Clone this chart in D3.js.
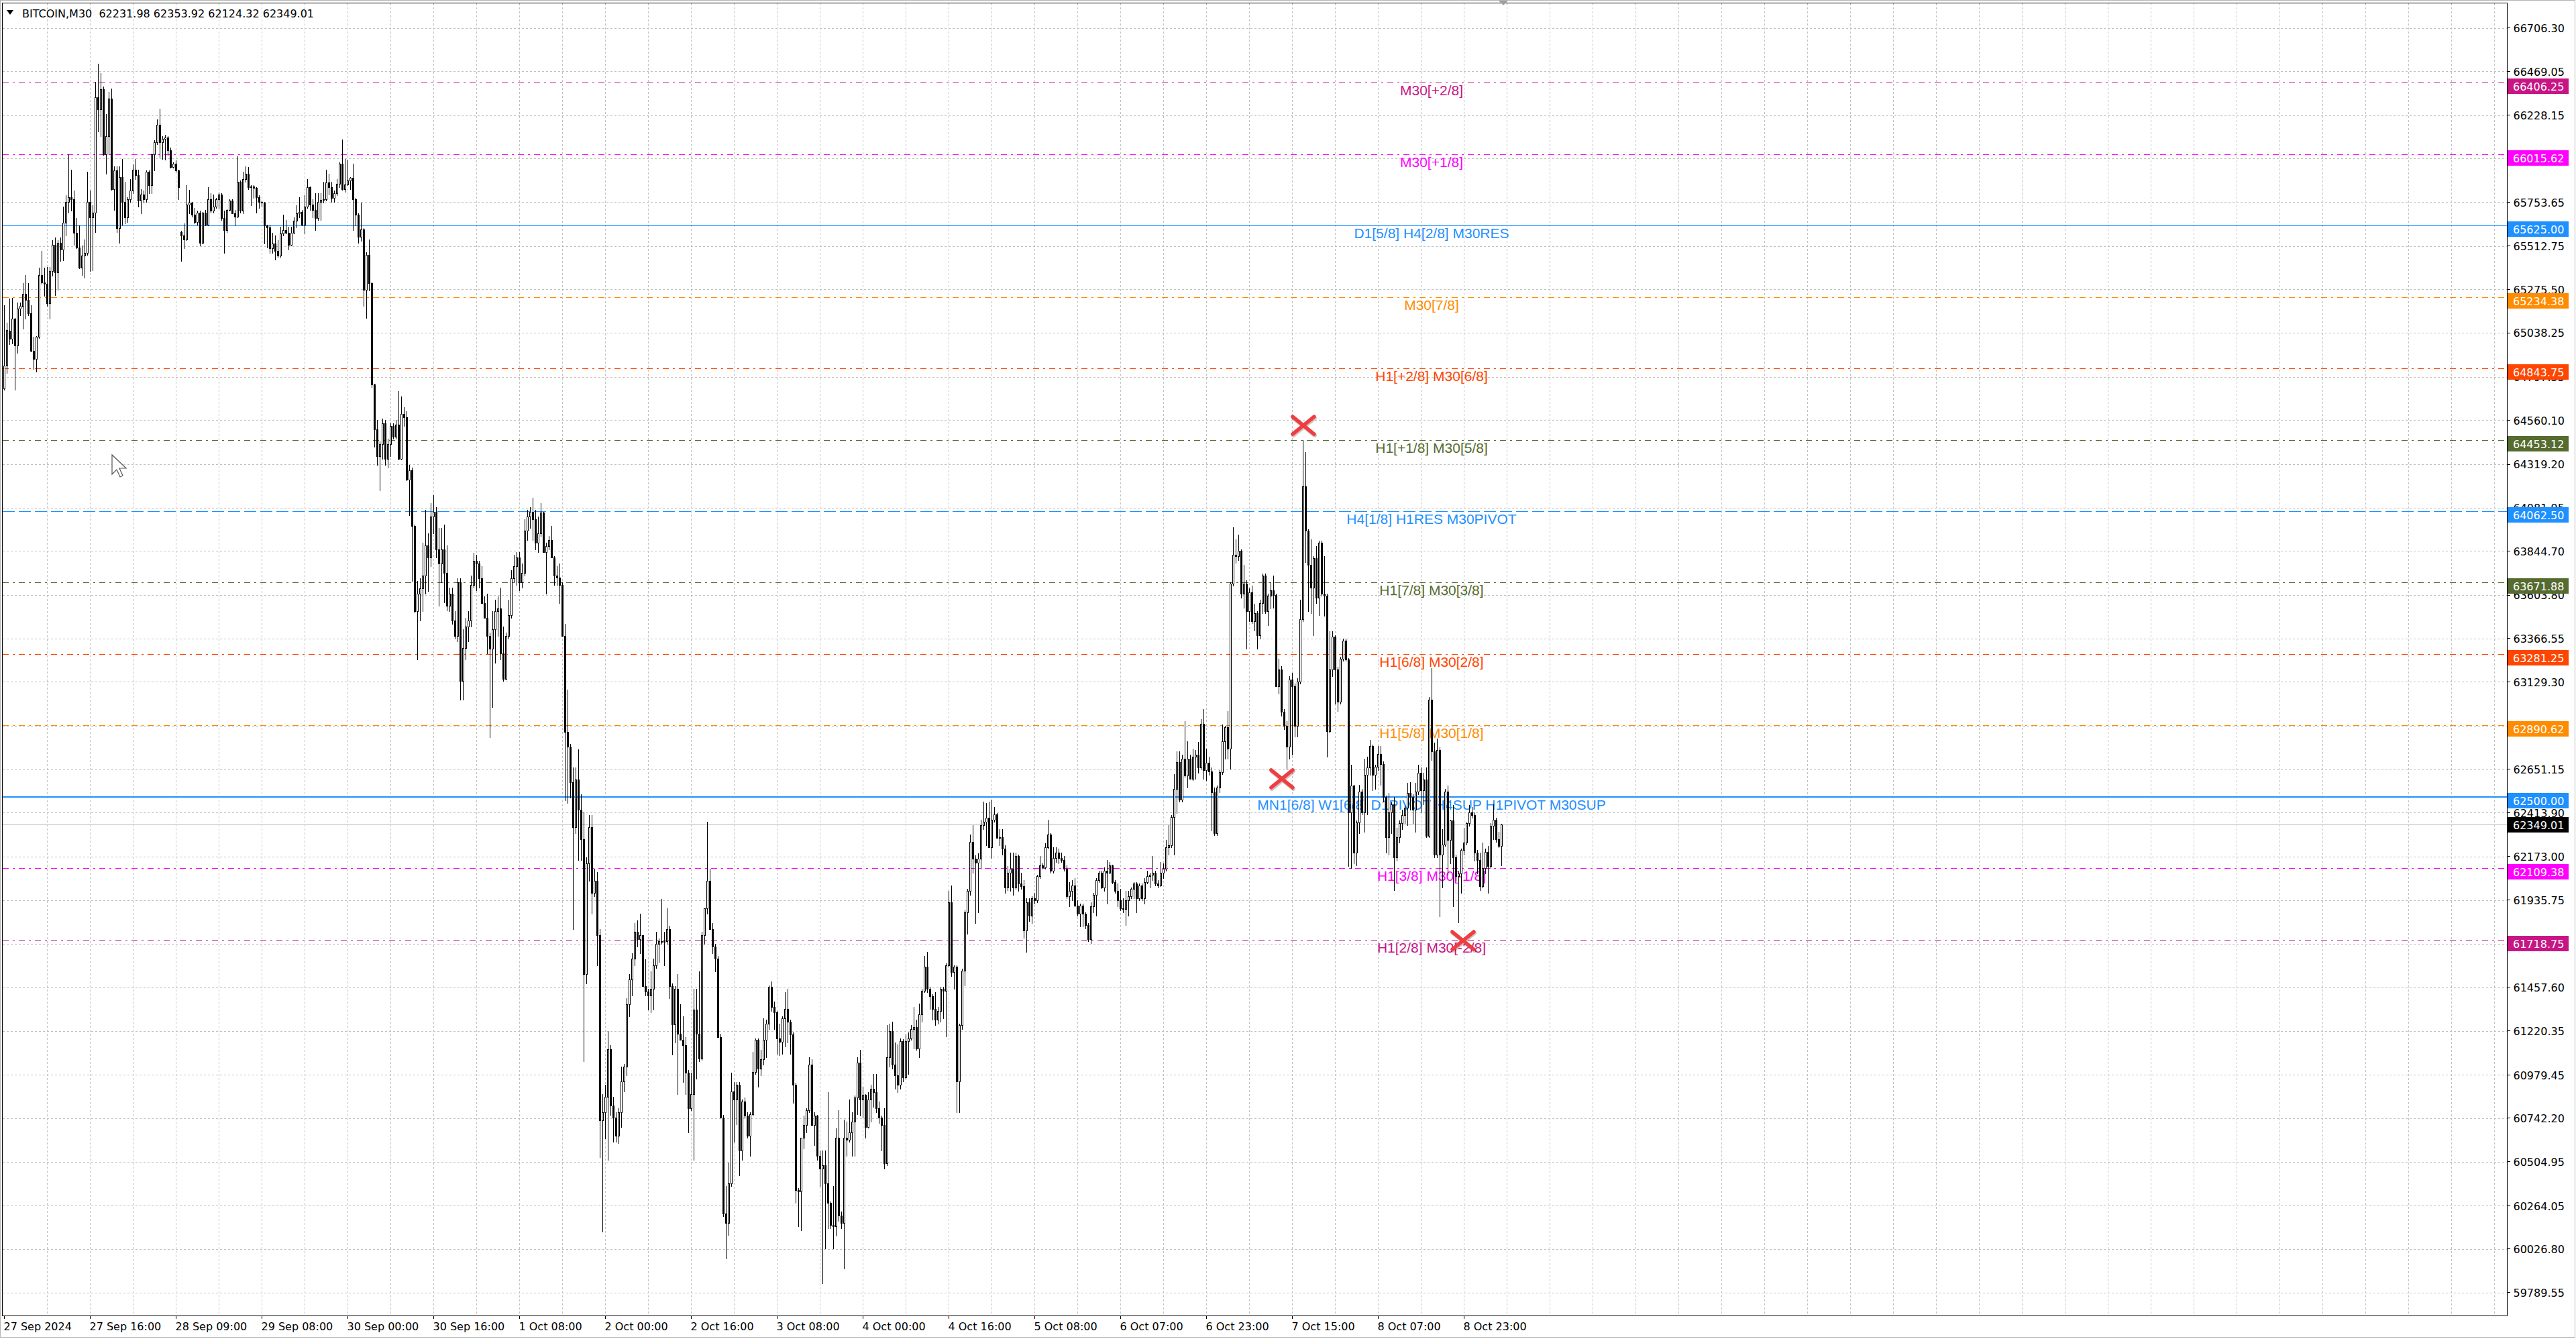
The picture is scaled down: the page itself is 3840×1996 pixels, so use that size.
<!DOCTYPE html>
<html>
<head>
<meta charset="utf-8">
<script src="https://cdn.jsdelivr.net/npm/d3@7"></script>
<style>
html, body { margin: 0; padding: 0; background: #fff; }
svg { display: block; }
</style>
</head>
<body>
<svg id="chart" width="3840" height="1996"></svg>
<script>
// chart header
const symbol = "BITCOIN,M30";
const lastBar = [62231.98, 62353.92, 62124.32, 62349.01];

// right price scale labels
const priceTicks = [66706.30, 66469.05, 66228.15, 65990.90, 65753.65, 65512.75, 65275.50, 65038.25,
  64797.35, 64560.10, 64319.20, 64081.95, 63844.70, 63603.80, 63366.55, 63129.30, 62888.40,
  62651.15, 62413.90, 62173.00, 61935.75, 61694.85, 61457.60, 61220.35, 60979.45, 60742.20,
  60504.95, 60264.05, 60026.80, 59789.55];

// bottom time labels, one every 32 bars
const timeLabels = ["27 Sep 2024", "27 Sep 16:00", "28 Sep 09:00", "29 Sep 08:00", "30 Sep 00:00",
  "30 Sep 16:00", "1 Oct 08:00", "2 Oct 00:00", "2 Oct 16:00", "3 Oct 08:00", "4 Oct 00:00",
  "4 Oct 16:00", "5 Oct 08:00", "6 Oct 07:00", "6 Oct 23:00", "7 Oct 15:00", "8 Oct 07:00", "8 Oct 23:00"];

// murrey levels
const levelPrices = [66406.25, 66015.62, 65625.00, 65234.38, 64843.75, 64453.12, 64062.50,
  63671.88, 63281.25, 62890.62, 62500.00, 62109.38, 61718.75];
const levelNames = ["M30[+2/8]", "M30[+1/8]", "D1[5/8] H4[2/8] M30RES", "M30[7/8]", "H1[+2/8] M30[6/8]",
  "H1[+1/8] M30[5/8]", "H4[1/8] H1RES M30PIVOT", "H1[7/8] M30[3/8]", "H1[6/8] M30[2/8]",
  "H1[5/8] M30[1/8]", "MN1[6/8] W1[6/8] D1PIVOT H4SUP H1PIVOT M30SUP", "H1[3/8] M30[-1/8]", "H1[2/8] M30[-2/8]"];
const levelColors = ["#C71585", "#FF00FF", "#1E90FF", "#FF8C00", "#FF4500", "#556B2F", "#1E90FF",
  "#556B2F", "#FF4500", "#FF8C00", "#1E90FF", "#FF00FF", "#C71585"];
const levelStyles = ["dashdot", "dashdot", "solid", "dashdot", "dashdot", "dashdot", "dash",
  "dashdot", "dashdot", "dashdot", "solid2", "dashdot", "dashdot"];

const bidPrice = 62349.01;

// red cross markers: [bar index, price]
const marks = [[484.1, 64532], [476.1, 62599], [543.6, 61714]];

// M30 candles: [open, high, low, close]
const ohlc = [
[64735,65190,64725,64860],[64860,65095,64820,65055],[65050,65225,64975,65005],[65005,65230,64980,65115],[65115,65120,64725,64970],
[64970,65205,64930,65170],[65170,65205,65135,65185],[65180,65310,65060,65250],[65250,65355,65115,65220],[65220,65310,65135,65145],
[65145,65190,64935,64940],[64940,65015,64840,64895],[64895,65020,64825,65015],[65015,65395,65010,65355],[65355,65485,65305,65315],
[65315,65395,65240,65305],[65305,65400,65185,65200],[65200,65400,65115,65375],[65375,65545,65350,65520],[65520,65560,65245,65370],
[65370,65545,65275,65530],[65530,65560,65430,65495],[65495,65730,65435,65640],[65640,65790,65570,65755],[65755,66015,65695,65780],
[65780,65930,65705,65770],[65770,65815,65520,65585],[65585,65665,65500,65505],[65505,65625,65390,65395],[65395,65515,65355,65460],
[65460,65550,65340,65475],[65475,65920,65465,65755],[65755,65815,65375,65670],[65670,65735,65380,65695],[65695,66410,65590,66325],
[66325,66510,66140,66260],[66260,66460,66115,66370],[66370,66385,66010,66015],[66015,66235,65910,66115],[66115,66355,66015,66320],
[66320,66375,65820,65825],[65825,65950,65710,65925],[65925,65950,65590,65610],[65610,65950,65530,65890],[65890,65990,65630,65755],
[65755,65865,65635,65670],[65670,65780,65645,65770],[65770,65880,65755,65815],[65815,65960,65800,65930],[65930,65990,65880,65900],
[65900,65930,65730,65760],[65760,65825,65690,65795],[65795,65815,65750,65770],[65770,65925,65755,65920],[65920,65925,65800,65845],
[65845,66020,65800,66015],[66015,66090,65925,66080],[66080,66205,66070,66175],[66175,66265,66000,66080],[66080,66115,65990,66100],
[66100,66120,65985,66105],[66105,66115,66010,66035],[66035,66050,65940,65945],[65945,65970,65940,65965],[65965,65980,65920,65925],
[65925,65930,65770,65835],[65590,65595,65430,65570],[65570,65635,65500,65550],[65550,65845,65545,65740],[65740,65820,65690,65750],
[65750,65755,65675,65685],[65685,65720,65635,65645],[65645,65705,65630,65695],[65695,65705,65515,65530],[65530,65700,65525,65695],
[65695,65710,65625,65630],[65630,65835,65625,65770],[65770,65800,65695,65705],[65705,65795,65695,65730],[65730,65775,65720,65770],
[65770,65805,65720,65795],[65795,65800,65655,65665],[65665,65705,65475,65600],[65600,65715,65590,65710],[65710,65770,65705,65760],
[65760,65770,65690,65690],[65690,65710,65625,65675],[65675,66005,65670,65865],[65865,65870,65695,65705],[65705,65920,65690,65880],
[65880,65950,65865,65910],[65910,65945,65825,65835],[65835,65845,65735,65840],[65840,65845,65775,65830],[65830,65835,65695,65780],
[65780,65790,65720,65755],[65755,65760,65730,65750],[65750,65755,65525,65625],[65625,65630,65505,65615],[65615,65630,65475,65500],
[65500,65585,65475,65525],[65525,65570,65440,65485],[65485,65545,65455,65460],[65460,65620,65455,65580],[65580,65685,65570,65600],
[65600,65655,65580,65585],[65585,65620,65495,65520],[65520,65620,65515,65585],[65585,65670,65580,65650],[65650,65735,65615,65690],
[65690,65780,65670,65700],[65700,65710,65625,65630],[65630,65790,65580,65730],[65730,65880,65720,65835],[65835,65840,65710,65740],
[65740,65770,65670,65710],[65710,65800,65600,65665],[65665,65800,65655,65755],[65755,65800,65655,65765],[65765,65865,65750,65770],
[65770,65930,65760,65860],[65860,65910,65795,65835],[65835,65865,65755,65775],[65775,65815,65755,65800],[65800,65880,65790,65855],
[65855,65970,65835,65965],[65965,66095,65820,65825],[65825,65990,65810,65850],[65850,65985,65845,65870],[65870,65890,65825,65885],
[65885,65965,65600,65770],[65770,65775,65625,65685],[65685,65690,65530,65565],[65565,65750,65540,65605],[65605,65610,65185,65275],
[65275,65480,65120,65465],[65465,65550,65270,65310],[65310,65315,64740,64755],[64755,64760,64415,64510],[64510,64560,64315,64365],
[64365,64445,64175,64430],[64430,64570,64350,64545],[64545,64560,64315,64350],[64350,64460,64300,64430],[64430,64545,64365,64530],
[64530,64545,64460,64470],[64470,64560,64460,64535],[64535,64720,64345,64350],[64350,64690,64345,64595],[64595,64630,64530,64575],
[64575,64610,64230,64235],[64235,64315,64040,64285],[64285,64300,63680,63980],[63980,63990,63510,63515],[63515,63680,63250,63610],
[63610,63695,63465,63640],[63640,63890,63515,63710],[63710,64070,63610,63875],[63875,63940,63625,63810],[63810,64105,63760,64035],
[64035,64150,63940,64060],[64060,64085,63810,63855],[63855,63970,63545,63775],[63775,63970,63675,63855],[63855,63990,63565,63725],
[63725,63875,63520,63545],[63545,63645,63515,63610],[63610,63645,63445,63465],[63465,63515,63365,63380],[63380,63695,63350,63675],
[63675,63695,63030,63135],[63135,63415,63030,63315],[63315,63480,63250,63430],[63430,63515,63350,63465],[63465,63710,63430,63660],
[63660,63835,63645,63790],[63790,63825,63630,63775],[63775,63790,63645,63695],[63695,63760,63560,63560],[63560,63595,63480,63480],
[63480,63610,63285,63380],[63380,63400,62825,63310],[63310,63515,62990,63415],[63415,63580,63235,63515],[63515,63595,63380,63530],
[63530,63645,63250,63285],[63285,63430,63135,63145],[63145,63400,63140,63380],[63380,63580,63365,63495],[63495,63740,63480,63695],
[63695,63825,63675,63760],[63760,63840,63660,63810],[63810,63840,63630,63675],[63675,63775,63645,63725],[63725,64020,63710,63955],
[63955,64070,63905,64035],[64035,64085,63970,64060],[64060,64135,63905,64020],[64020,64070,63855,63890],[63890,64035,63840,63940],
[63940,64105,63925,64055],[64055,64060,63840,63840],[63840,63890,63610,63870],[63870,63925,63855,63905],[63905,63980,63810,63810],
[63810,63815,63660,63710],[63710,63760,63660,63700],[63700,63775,63560,63660],[63660,63675,63380,63380],[63380,63445,62480,62855],
[62855,63085,62465,62775],[62775,62790,62495,62580],[62580,62660,61775,62335],[62335,62660,62300,62595],[62595,62760,62155,62430],
[62430,62515,62155,62270],[62270,62420,61055,61530],[61530,62170,61480,62135],[62135,62400,62040,62335],[62335,62400,61860,61975],
[61975,62105,61955,62040],[62040,62090,61580,61745],[61745,61775,60530,60730],[60730,60875,60120,60775],[60775,60925,60630,60860],
[60860,61220,60515,61120],[61120,61140,60760,60810],[60810,60860,60615,60745],[60745,60775,60615,60645],[60645,60795,60605,60775],
[60775,61025,60695,60945],[60945,61040,60890,61025],[61025,61400,60975,61365],[61365,61530,61300,61500],[61500,61645,61415,61615],
[61615,61810,61580,61760],[61760,61825,61680,61720],[61720,61860,61645,61745],[61745,61745,61465,61465],[61465,61610,61415,61435],
[61435,61450,61335,61415],[61415,61545,61320,61450],[61450,61615,61335,61580],[61580,61760,61565,61695],[61695,61725,61595,61710],
[61710,61940,61695,61705],[61705,61760,61580,61710],[61710,61890,61695,61775],[61775,61795,61400,61465],[61465,61480,61090,61255],
[61255,61465,61155,61450],[61450,61530,60875,61205],[61205,61365,61170,61170],[61170,61300,60940,61140],[61140,61185,60875,60990],
[60990,61005,60665,60795],[60795,60990,60785,60875],[60875,61450,60515,61335],[61335,61450,60960,61205],[61205,61545,61055,61070],
[61070,61760,61060,61745],[61745,61890,61695,61890],[61890,62365,61860,62040],[62040,62105,61775,61775],[61775,61810,61645,61680],
[61680,61695,61545,61615],[61615,61630,61185,61185],[61185,61205,60745,60745],[60745,60760,60205,60220],[60220,60370,59975,60170],
[60170,60500,60105,60385],[60385,60990,60370,60890],[60890,60940,60615,60845],[60845,60940,60710,60925],[60925,60940,60430,60565],
[60565,60845,60515,60835],[60835,60855,60745,60755],[60755,60775,60635,60645],[60645,60775,60535,60765],[60765,61105,60755,60995],
[60995,61180,60985,61170],[61170,61180,60915,61015],[61015,61115,60975,61065],[61065,61290,61035,61170],[61170,61280,61075,61260],
[61260,61470,61230,61460],[61460,61490,61330,61350],[61350,61380,61230,61320],[61320,61330,61095,61180],[61180,61260,61085,61160],
[61160,61300,61095,61290],[61290,61430,61135,61340],[61340,61450,61155,61270],[61270,61280,61095,61200],[61200,61210,60825,60925],
[60925,60935,60280,60350],[60350,60360,60150,60340],[60340,60635,60130,60635],[60635,60755,60575,60705],[60705,60795,60665,60785],
[60785,61075,60775,61035],[61035,61065,60705,60705],[60705,60775,60595,60755],[60755,60760,60515,60535],[60535,60565,60370,60465],
[60465,60565,59840,60485],[60485,60565,60030,60385],[60385,60885,60140,60280],[60280,60285,60140,60160],[60160,60370,60030,60150],
[60150,60685,60100,60635],[60635,60785,60180,60210],[60210,60230,60140,60170],[60170,60735,59920,60635],[60635,60725,60535,60625],
[60625,60845,60615,60665],[60665,60775,60535,60725],[60725,60865,60535,60855],[60855,61075,60765,61045],[61045,61115,60755,60845],
[60845,60915,60745,60870],[60870,60875,60635,60695],[60695,60885,60690,60845],[60845,60925,60725,60905],[60905,60985,60805,60885],
[60885,60985,60775,60795],[60795,60835,60715,60745],[60745,60755,60565,60705],[60705,60795,60465,60495],[60495,61250,60485,61075],
[61075,61260,61025,61220],[61220,61270,61015,61035],[61035,61155,60905,60975],[60975,61145,60885,60925],[60925,61180,60905,61165],
[61165,61175,60945,60965],[60965,61200,60960,61165],[61165,61210,60985,61180],[61180,61250,61170,61230],[61230,61350,61125,61240],
[61240,61280,61115,61125],[61125,61370,61075,61310],[61310,61450,61270,61440],[61440,61630,61430,61570],[61570,61650,61430,61450],
[61450,61460,61340,61410],[61410,61420,61280,61340],[61340,61430,61250,61280],[61280,61350,61260,61330],[61330,61460,61270,61450],
[61450,61460,61290,61440],[61440,61590,61190,61580],[61580,61985,61570,61925],[61925,62015,61520,61540],[61540,61580,61450,61570],
[61570,61580,60775,60945],[60945,61260,60775,61250],[61250,61560,61230,61550],[61550,61880,61470,61870],[61870,61995,61750,61985],
[61985,62295,61965,62255],[62255,62345,62085,62160],[62160,62180,61810,62140],[62140,62190,61870,62160],[62160,62375,62105,62345],
[62345,62475,62325,62365],[62365,62465,62235,62385],[62385,62475,62225,62225],[62225,62485,62165,62375],[62375,62445,62365,62405],
[62405,62410,62275,62275],[62275,62325,62235,62280],[62280,62325,62185,62215],[62215,62235,61975,62005],[62005,62120,61990,62085],
[62085,62195,61985,62105],[62105,62195,61965,62005],[62005,62195,61995,62175],[62175,62185,61985,62025],[62025,62085,61995,62010],
[62010,62045,61730,61770],[61770,61945,61650,61925],[61925,61945,61820,61850],[61850,61955,61810,61945],[61945,61975,61915,61935],
[61935,62075,61925,62065],[62065,62175,62055,62125],[62125,62135,62105,62115],[62115,62245,62105,62225],[62225,62375,62215,62295],
[62295,62300,62085,62095],[62095,62225,62085,62165],[62165,62225,62145,62195],[62195,62215,62135,62165],[62165,62195,62145,62155],
[62155,62175,62095,62105],[62105,62125,61945,61955],[61955,62035,61900,61985],[61985,62045,61935,62015],[62015,62055,61900,61905],
[61905,61935,61850,61860],[61860,61915,61790,61905],[61905,61915,61790,61860],[61860,61870,61780,61800],[61800,61810,61710,61720],
[61720,61925,61700,61900],[61900,61975,61870,61965],[61965,62055,61850,62045],[62045,62095,62035,62085],[62085,62095,62000,62005],
[62005,62115,61985,62095],[62095,62155,61915,62085],[62085,62145,62080,62125],[62125,62130,62025,62035],[62035,62045,61975,61985],
[61985,62025,61900,61935],[61935,61995,61880,61890],[61890,61945,61870,61885],[61885,61985,61800,61935],[61935,61985,61850,61955],
[61955,62005,61945,61995],[61995,62035,61945,62025],[62025,62035,61870,61945],[61945,62025,61935,62015],[62015,62025,61935,61945],
[61945,62055,61915,62035],[62035,62095,62025,62065],[62065,62085,62005,62075],[62075,62175,62045,62085],[62085,62095,62015,62025],
[62025,62045,62005,62015],[62015,62145,62010,62085],[62085,62135,62055,62105],[62105,62265,62095,62225],[62225,62345,62185,62235],
[62235,62400,62225,62390],[62390,62625,62185,62545],[62545,62750,62410,62690],[62690,62750,62475,62485],[62485,62730,62475,62710],
[62710,62915,62610,62615],[62615,62805,62550,62710],[62710,62730,62600,62600],[62600,62765,62590,62720],[62720,62755,62600,62730],
[62730,62800,62630,62660],[62660,62925,62650,62900],[62900,62980,62600,62645],[62645,62765,62590,62685],[62685,62720,62620,62640],
[62640,62660,62315,62525],[62525,62550,62290,62300],[62300,62560,62290,62550],[62550,62645,62525,62635],[62635,62895,62625,62805],
[62805,62890,62710,62880],[62880,62970,62710,62765],[62765,63675,62655,63665],[63665,63975,63655,63825],[63825,63910,63780,63815],
[63815,63935,63795,63845],[63845,63855,63590,63610],[63610,63770,63535,63665],[63665,63685,63310,63515],[63515,63640,63460,63620],
[63620,63655,63450,63460],[63460,63555,63410,63505],[63505,63515,63310,63385],[63385,63580,63365,63560],[63560,63720,63505,63710],
[63710,63720,63505,63515],[63515,63610,63440,63600],[63600,63675,63530,63630],[63630,63710,63535,63605],[63605,63610,63105,63105],
[63105,63255,63065,63195],[63195,63215,62945,62965],[62965,62980,62870,62890],[62890,62915,62655,62775],[62775,63160,62710,63140],
[63140,63180,62730,63105],[63105,63120,62830,62890],[62890,63150,62830,63130],[63130,63580,63120,63470],[63470,64450,63460,64200],
[64200,64385,63785,63955],[63955,63965,63515,63770],[63770,63910,63505,63645],[63645,63815,63385,63805],[63805,63870,63560,63590],
[63590,63900,63495,63890],[63890,63900,63600,63610],[63610,63815,63490,63600],[63600,63610,62720,62860],[62860,63405,62850,63195],
[63195,63405,63160,63375],[63375,63385,63010,63195],[63195,63210,62970,63020],[63020,63265,63010,63255],[63255,63365,63245,63355],
[63355,63365,63245,63250],[63250,63260,62120,62415],[62415,62675,62110,62560],[62560,62565,62135,62195],[62195,62370,62125,62360],
[62360,62565,62300,62530],[62530,62545,62405,62415],[62415,62710,62310,62620],[62620,62720,62405,62660],[62660,62810,62620,62780],
[62780,62785,62535,62620],[62620,62675,62545,62665],[62665,62780,62645,62735],[62735,62780,62565,62680],[62680,62695,62475,62500],
[62500,62505,62195,62280],[62280,62520,62185,62415],[62415,62470,62300,62460],[62460,62500,61990,62170],[62170,62330,62150,62280],
[62280,62370,62250,62355],[62355,62430,62325,62400],[62400,62455,62355,62440],[62440,62575,62345,62520],[62520,62580,62430,62500],
[62500,62515,62355,62430],[62430,62575,62310,62530],[62530,62675,62515,62630],[62630,62660,62415,62535],[62535,62630,62460,62595],
[62595,62660,62280,62285],[62285,63045,62280,63030],[63030,63205,62700,62750],[62750,62795,62170,62185],[62185,62820,62170,62755],
[62755,62770,61845,62185],[62185,62325,62005,62240],[62240,62545,62230,62530],[62530,62560,62075,62265],[62265,62375,62135,62370],
[62370,62455,61900,62170],[62170,62185,62040,62065],[62065,62095,61815,62080],[62080,62215,61975,62210],[62210,62330,62185,62250],
[62250,62360,62240,62355],[62355,62455,62340,62415],[62415,62445,62385,62400],[62400,62415,62150,62195],[62195,62210,62080,62155],
[62155,62195,61990,62010],[62010,62250,62005,62110],[62110,62215,62080,62200],[62200,62230,61975,62120],[62120,62355,62110,62340],
[62340,62460,62270,62375],[62375,62385,62255,62270],[62270,62310,62225,62232],
[62231.98,62353.92,62124.32,62349.01]
];

const svg = d3.select("#chart");
const plot = { left: 3.5, top: 4.5, right: 3737.5, bottom: 1961.5 };

const y = d3.scaleLinear().domain([59789.55, 66706.30]).range([1926.5, 41.5]);
const x = d3.scaleLinear().domain([0, 1]).range([6.5, 10.5]); // 4px per bar
const py = p => Math.round(y(p));

const axisFont = "'DejaVu Sans', Verdana, sans-serif";
const labelFont = "'Liberation Sans', Arial, sans-serif";
const dashes = { dashdot: "9,6,3,6", dash: "18,6", solid: null, solid2: null };

svg.append("rect").attr("width", 3840).attr("height", 1996).attr("fill", "#fff");
svg.append("rect").attr("x", 0.5).attr("y", 0.5).attr("width", 3838).attr("height", 1993)
  .attr("fill", "none").attr("stroke", "#b4b4b4");

// grid
const grid = svg.append("g").attr("stroke", "#c0c0c0").attr("stroke-dasharray", "3,3")
  .attr("shape-rendering", "crispEdges");
grid.selectAll(".h").data(priceTicks).join("line")
  .attr("x1", plot.left).attr("x2", plot.right)
  .attr("y1", d => py(d) + 0.5).attr("y2", d => py(d) + 0.5);
grid.selectAll(".v").data(d3.range(16, 929, 16)).join("line")
  .attr("x1", d => x(d) - 0.5).attr("x2", d => x(d) - 0.5)
  .attr("y1", plot.top).attr("y2", plot.bottom);

// level lines
const levels = levelPrices.map((p, i) => ({ p, name: levelNames[i], color: levelColors[i], style: levelStyles[i] }));
svg.append("g").attr("shape-rendering", "crispEdges")
  .selectAll("line").data(levels).join("line")
  .attr("x1", plot.left).attr("x2", plot.right)
  .attr("y1", d => d.style === "solid2" ? py(d.p) : py(d.p) + 0.5)
  .attr("y2", d => d.style === "solid2" ? py(d.p) : py(d.p) + 0.5)
  .attr("stroke", d => d.color)
  .attr("stroke-width", d => d.style === "solid2" ? 2 : 1)
  .attr("stroke-dasharray", d => dashes[d.style]);

// bid line
svg.append("line").attr("x1", plot.left).attr("x2", plot.right)
  .attr("y1", py(bidPrice) + 0.5).attr("y2", py(bidPrice) + 0.5)
  .attr("stroke", "#c0c0c0").attr("shape-rendering", "crispEdges");

// level names in the middle of the chart
svg.append("g").selectAll("text").data(levels).join("text")
  .attr("x", 2134).attr("y", d => y(d.p) + 19)
  .attr("text-anchor", "middle")
  .attr("font-family", labelFont).attr("font-size", "21px")
  .attr("fill", d => d.color)
  .text(d => d.name);

// candles
const gc = svg.append("g").attr("shape-rendering", "crispEdges");
gc.selectAll("line").data(ohlc).join("line")
  .attr("x1", (d, i) => x(i)).attr("x2", (d, i) => x(i))
  .attr("y1", d => py(d[1])).attr("y2", d => py(d[2]) + 1)
  .attr("stroke", "#000");
gc.selectAll("rect").data(ohlc).join("rect")
  .each(function (d, i) {
    const yt = py(Math.max(d[0], d[3])), yb = py(Math.min(d[0], d[3]));
    const r = d3.select(this);
    if (d[3] > d[0] && yb - yt >= 1) {
      r.attr("x", x(i) - 1).attr("y", yt + 0.5).attr("width", 2).attr("height", yb - yt)
        .attr("fill", "#fff").attr("stroke", "#000");
    } else {
      r.attr("x", x(i) - 1.5).attr("y", yt).attr("width", 3).attr("height", Math.max(1, yb - yt + 1))
        .attr("fill", "#000");
    }
  });

// red crosses
const gm = svg.append("g").attr("stroke-linecap", "round");
marks.forEach(([i, p]) => {
  const cx = x(i), cy = y(p);
  const d = `M${cx - 16},${cy - 13}L${cx + 16},${cy + 13}M${cx - 16},${cy + 13}L${cx + 16},${cy - 13}`;
  gm.append("path").attr("d", d).attr("transform", "translate(1,2)")
    .attr("stroke", "rgba(90,0,0,0.25)").attr("stroke-width", 6).attr("fill", "none");
  gm.append("path").attr("d", d).attr("stroke", "#EE3E42").attr("stroke-width", 5.5).attr("fill", "none");
});

// plot frame
svg.append("rect").attr("x", plot.left).attr("y", plot.top)
  .attr("width", plot.right - plot.left).attr("height", plot.bottom - plot.top)
  .attr("fill", "none").attr("stroke", "#000").attr("shape-rendering", "crispEdges");

// right price axis
const yAxis = d3.axisRight(y).tickValues(priceTicks).tickFormat(d3.format(".2f"))
  .tickSize(4).tickPadding(5).offset(0);
const gy = svg.append("g").attr("transform", `translate(${plot.right},0)`).call(yAxis);
gy.select(".domain").remove();
gy.selectAll("line").attr("stroke", "#000").attr("shape-rendering", "crispEdges");
gy.selectAll("text").attr("font-family", axisFont).attr("font-size", "16px")
  .attr("fill", "#000").attr("dy", "0.4em");

// level price boxes
const boxes = levels.map(d => ({ p: d.p, color: d.color, top: py(d.p) - 6, txt: "#fff" }))
  .concat([{ p: bidPrice, color: "#000", top: py(bidPrice) - 11, txt: "#fff" }]);
const gb = svg.append("g");
gb.selectAll("rect").data(boxes).join("rect")
  .attr("x", 3738).attr("y", d => d.top).attr("width", 91).attr("height", 23)
  .attr("fill", d => d.color).attr("shape-rendering", "crispEdges");
gb.selectAll("text").data(boxes).join("text")
  .attr("x", 3746).attr("y", d => d.top + 17.5)
  .attr("font-family", axisFont).attr("font-size", "16px").attr("fill", d => d.txt)
  .text(d => d3.format(".2f")(d.p));

// bottom time axis
const xAxis = d3.axisBottom(x).tickValues(d3.range(0, timeLabels.length * 32, 32))
  .tickFormat((d, i) => timeLabels[i]).tickSize(4).offset(0);
const gx = svg.append("g").attr("transform", `translate(0,${plot.bottom})`).call(xAxis);
gx.select(".domain").remove();
gx.selectAll("line").attr("stroke", "#000").attr("shape-rendering", "crispEdges");
gx.selectAll("text").attr("font-family", axisFont).attr("font-size", "16px").attr("fill", "#000")
  .attr("text-anchor", "start").attr("x", -1).attr("y", 21).attr("dy", 0);

// header
svg.append("path").attr("d", "M10,15L20,15L15,22Z").attr("fill", "#000");
svg.append("text").attr("x", 33).attr("y", 26)
  .attr("font-family", axisFont).attr("font-size", "16px").attr("fill", "#000")
  .style("white-space", "pre")
  .text(`${symbol}  ${lastBar.map(d3.format(".2f")).join(" ")}`);

// chart shift marker
svg.append("path").attr("d", "M2234,1L2248,1L2241,8Z").attr("fill", "#a0a0a0");

// mouse pointer
svg.append("path")
  .attr("d", "M167,678 l0,29 l7,-7 l5,11 l4,-2 l-5,-11 l10,0 Z")
  .attr("fill", "#fff").attr("stroke", "#555").attr("stroke-width", 1.2);
</script>
</body>
</html>
